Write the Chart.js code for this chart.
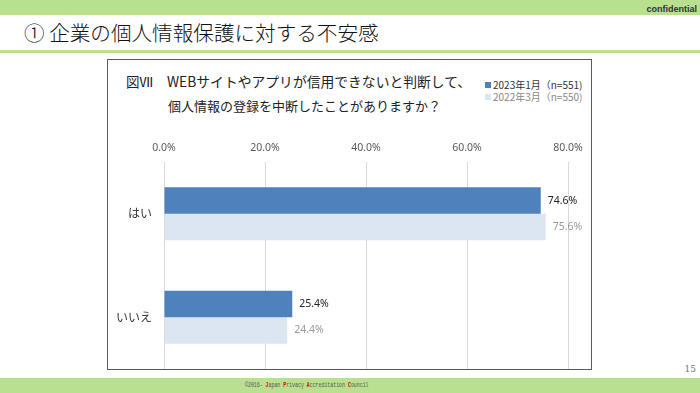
<!DOCTYPE html>
<html>
<head>
<meta charset="utf-8">
<script src="https://cdn.jsdelivr.net/npm/chart.js@4/dist/chart.umd.min.js"></script>
<style>
  html, body { margin:0; padding:0; background:#fff; }
  #page { position:relative; width:700px; height:393px; overflow:hidden; background:#fff;
          font-family:"Noto Sans CJK JP","Noto Sans",sans-serif; }
  .abs { position:absolute; white-space:nowrap; }
  #topbar { left:0; top:0; width:700px; height:15px; background:#b9e08f; }
  #conf { right:3px; top:3px; font:bold 9px "Liberation Sans",Arial,sans-serif; color:#333; line-height:12px; }
  #title { left:24px; top:18px; font-size:20.6px; line-height:28px; color:#111; font-weight:300; }
  #tline { left:0; top:50px; width:700px; height:3px; background:#b9e08f; }
  #box { left:107px; top:59px; width:485px; height:311px; border:1px solid #595959; box-sizing:border-box; }
  #fig { left:126px; top:72px; font-size:13.5px; line-height:18px; color:#222; }
  #q1 { left:167px; top:72px; font-size:13.8px; line-height:18px; color:#222; }
  #q2 { left:168px; top:97px; font-size:13px; line-height:18px; color:#222; }
  #legend { left:485px; top:79px; font-size:10px; line-height:12px; }
  #legend .row { display:flex; align-items:center; }
  #legend .sw { width:6px; height:6px; margin-right:2px; }
  #bottombar { left:0; top:378px; width:700px; height:15px; background:#b9e08f; }
  #pnum { right:4px; top:364px; font:9px "DejaVu Serif","Liberation Serif",serif; color:#777; }
  #foot { left:245px; top:381px; font:7px "Liberation Mono","DejaVu Sans Mono",monospace; color:#555;
          transform:scaleX(0.7); transform-origin:0 0; }
  #foot b { color:#e00; font-weight:bold; }
  #c { position:absolute; left:0; top:0; }
</style>
</head>
<body>
<div id="page">
  <div class="abs" id="topbar"></div>
  <div class="abs" id="conf">confidential</div>
  <div class="abs" id="title">① 企業の個人情報保護に対する不安感</div>
  <div class="abs" id="tline"></div>
  <div class="abs" id="box"></div>
  <div class="abs" id="fig">図Ⅶ</div>
  <div class="abs" id="q1">WEBサイトやアプリが信用できないと判断して、</div>
  <div class="abs" id="q2">個人情報の登録を中断したことがありますか？</div>
  <div class="abs" id="legend"></div>
  <div class="abs" id="bottombar"></div>
  <div class="abs" id="pnum">15</div>
  <div class="abs" id="foot">©2016-  <b>J</b>apan <b>P</b>rivacy <b>A</b>ccreditation <b>C</b>ouncil</div>
  <canvas id="c" width="700" height="393"></canvas>
</div>
<script>
const categories = ['はい', 'いいえ'];
const series2023 = [74.6, 25.4];
const series2022 = [75.6, 24.4];
const seriesLabels = ['2023年1月（n=551)', '2022年3月（n=550)'];
const xTickValues = [0, 20, 40, 60, 80];

const colors = ['#4f81bd', '#dce6f2'];
const labelColors = ['#222', '#999'];
const legendTextColors = ['#333', '#888'];

// legend
const lg = document.getElementById('legend');
seriesLabels.forEach((t, i) => {
  const r = document.createElement('div');
  r.className = 'row';
  r.innerHTML = '<span class="sw" style="background:' + colors[i] + '"></span><span style="color:' + legendTextColors[i] + '">' + t + '</span>';
  lg.appendChild(r);
});

const valueLabels = {
  id: 'valueLabels',
  afterDatasetsDraw(chart) {
    const ctx = chart.ctx;
    ctx.save();
    ctx.font = '10.5px "Noto Sans","DejaVu Sans",sans-serif';
    ctx.textAlign = 'left';
    ctx.textBaseline = 'middle';
    chart.data.datasets.forEach((ds, di) => {
      const meta = chart.getDatasetMeta(di);
      meta.data.forEach((bar, i) => {
        ctx.fillStyle = labelColors[di];
        ctx.fillText(ds.data[i].toFixed(1) + '%', bar.x + 7, bar.y);
      });
    });
    ctx.restore();
  }
};

new Chart(document.getElementById('c'), {
  type: 'bar',
  data: {
    labels: categories,
    datasets: [
      { label: seriesLabels[0], data: series2023, backgroundColor: colors[0], borderWidth: 0 },
      { label: seriesLabels[1], data: series2022, backgroundColor: colors[1], borderWidth: 0 }
    ]
  },
  options: {
    indexAxis: 'y',
    responsive: false,
    animation: false,
    events: [],
    layout: { padding: { left: 0, right: 132, top: 140, bottom: 24 } },
    datasets: { bar: { categoryPercentage: 0.51, barPercentage: 1.0 } },
    plugins: { legend: { display: false }, tooltip: { enabled: false } },
    scales: {
      x: {
        position: 'top',
        min: 0, max: 80,
        afterBuildTicks(scale) { scale.ticks = xTickValues.map(v => ({ value: v })); },
        afterFit(scale) { scale.height = 22; },
        grid: { color: '#d9d9d9', lineWidth: 1, drawTicks: false },
        border: { display: false },
        ticks: {
          padding: 8,
          color: '#595959',
          font: { size: 10.5, family: '"Noto Sans","DejaVu Sans",sans-serif' },
          callback: v => Number(v).toFixed(1) + '%'
        }
      },
      y: {
        afterFit(scale) { scale.width = 164; },
        grid: { display: false, drawTicks: false },
        border: { display: false },
        ticks: {
          padding: 12,
          color: '#333',
          font: { size: 12, family: '"Noto Sans CJK JP",sans-serif' }
        }
      }
    }
  },
  plugins: [valueLabels]
});
</script>
</body>
</html>
